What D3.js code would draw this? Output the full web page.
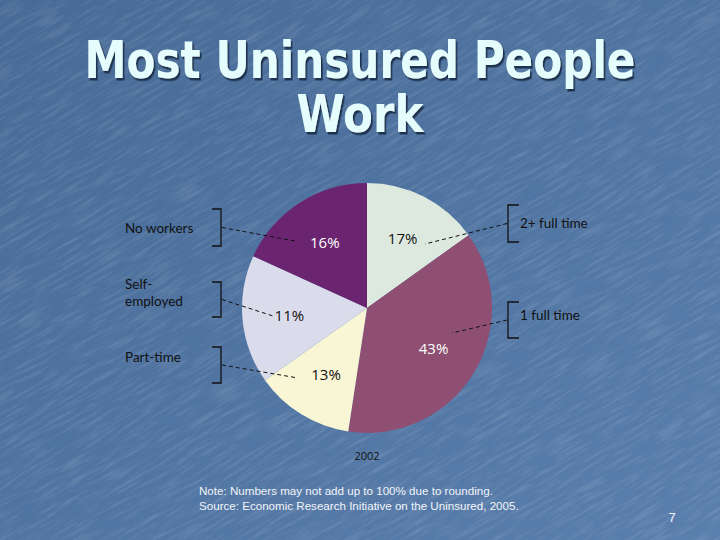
<!DOCTYPE html>
<html>
<head>
<meta charset="utf-8">
<script src="https://cdn.jsdelivr.net/npm/d3@7"></script>
<style>
  html, body { margin: 0; padding: 0; background: #4f739f; }
  svg { display: block; }
</style>
</head>
<body>
<svg id="chart" width="720" height="540"></svg>
<script>
// ---- data ----
const categories    = ["2+ full time", "1 full time", "Part-time", "Self-employed", "No workers"];
const labelPercents = [17, 43, 13, 11, 16];           // percentages printed on the slices
const drawnShares   = [15.1, 37.3, 12.8, 16.6, 18.2]; // slice sizes as drawn in the picture
const titleLines    = ["Most Uninsured People", "Work"];
const yearLabel     = "2002";
const noteLines     = ["Note: Numbers may not add up to 100% due to rounding.",
                       "Source:  Economic Research Initiative on the Uninsured, 2005."];
const pageNumber    = "7";

// ---- layout / style ----
const sliceColors = ["#dde9de", "#8f4f73", "#f8f6d4", "#dadcec", "#6b2570"];
const labelColors = ["#111", "#fff", "#111", "#111", "#fff"];
const cx = 367, cy = 308, R = 125;
const legendLayout = [
  { side: "right", yc: 223.5, half: 18.5, lines: ["2+ full time"], textY: 228, end: [425, 244] },
  { side: "right", yc: 320,   half: 18,   lines: ["1 full time"],  textY: 320, end: [452, 333] },
  { side: "left",  yc: 365,   half: 18,   lines: ["Part-time"],    textY: 362, end: [298, 378] },
  { side: "left",  yc: 299.5, half: 17.5, lines: ["Self-", "employed"], textY: 289, end: [273, 316] },
  { side: "left",  yc: 227.5, half: 18.5, lines: ["No workers"],   textY: 233, end: [295, 241] }
];

const svg = d3.select("#chart");
const defs = svg.append("defs");

// background gradient
const grad = defs.append("linearGradient").attr("id", "bg").attr("x1", 0).attr("y1", 0).attr("x2", 1).attr("y2", 1);
grad.append("stop").attr("offset", "0%").attr("stop-color", "#476a96");
grad.append("stop").attr("offset", "100%").attr("stop-color", "#5a7fad");
svg.append("rect").attr("width", 720).attr("height", 540).attr("fill", "url(#bg)");

// subtle scratchy texture
const tex = defs.append("filter").attr("id", "tex").attr("x", 0).attr("y", 0).attr("width", "100%").attr("height", "100%");
tex.append("feTurbulence").attr("type", "fractalNoise").attr("baseFrequency", "0.03 0.3")
   .attr("numOctaves", 3).attr("seed", 11).attr("result", "n");
tex.append("feColorMatrix").attr("type", "matrix")
   .attr("values", "0 0 0 0 1  0 0 0 0 1  0 0 0 0 1  1.4 0 0 0 -0.62");
svg.append("rect").attr("x", -300).attr("y", -300).attr("width", 1400).attr("height", 1200)
   .attr("transform", "rotate(-30 360 270)")
   .attr("filter", "url(#tex)").attr("opacity", 0.2);

// title shadow filter
const sh = defs.append("filter").attr("id", "shadow").attr("x", "-10%").attr("y", "-30%").attr("width", "120%").attr("height", "160%");
sh.append("feDropShadow").attr("dx", 2).attr("dy", 2.5).attr("stdDeviation", 0.4)
  .attr("flood-color", "#1d3250").attr("flood-opacity", 1);

// ---- title ----
const titleY = [78, 132], titleW = [551, 127];
titleLines.forEach((t, i) => {
  const g = svg.append("g").attr("transform", `translate(360,${titleY[i]})`);
  const txt = g.append("text").attr("x", 0).attr("y", 0)
    .attr("font-family", "DejaVu Sans, Verdana, sans-serif").attr("font-weight", "bold")
    .attr("font-size", 51).attr("text-anchor", "middle").attr("fill", "#e6fdfd")
    .attr("filter", "url(#shadow)").text(t);
  const w = txt.node().getComputedTextLength();
  g.attr("transform", `translate(360,${titleY[i]}) scale(${titleW[i] / w},1)`);
});

// ---- pie ----
const pie = d3.pie().sort(null).value(d => d.share).startAngle(0).endAngle(2 * Math.PI);
const rows = categories.map((c, i) => ({ cat: c, pct: labelPercents[i], share: drawnShares[i], i }));
const arcs = pie(rows);
const arc = d3.arc().innerRadius(0).outerRadius(R);
const labelArc = d3.arc().innerRadius(78).outerRadius(78);

const pg = svg.append("g").attr("transform", `translate(${cx},${cy})`);
pg.selectAll("path").data(arcs).join("path")
  .attr("d", arc).attr("fill", d => sliceColors[d.data.i]);

pg.selectAll("text").data(arcs).join("text")
  .attr("transform", d => `translate(${labelArc.centroid(d)})`)
  .attr("text-anchor", "middle").attr("dy", "0.36em")
  .attr("font-family", "Open Sans, sans-serif").attr("font-size", 15)
  .attr("fill", d => labelColors[d.data.i])
  .text(d => d.data.pct + "%");

// ---- brackets, category text and leader lines ----
const lg = svg.append("g").attr("font-family", "Lato, Open Sans, sans-serif").attr("font-size", 13.5).attr("fill", "#111");
legendLayout.forEach((L) => {
  const left = L.side === "left";
  const bx = left ? 221 : 508;
  const tick = left ? -9 : 11;
  lg.append("path")
    .attr("d", `M${bx + tick},${L.yc - L.half}H${bx}V${L.yc + L.half}H${bx + tick}`)
    .attr("fill", "none").attr("stroke", "#111").attr("stroke-width", 1.3);
  lg.append("line")
    .attr("x1", left ? bx + 1 : bx - 1).attr("y1", L.yc)
    .attr("x2", L.end[0]).attr("y2", L.end[1])
    .attr("stroke", "#111").attr("stroke-width", 1).attr("stroke-dasharray", "4,3");
  const tx = left ? 125 : 520;
  const t = lg.append("text").attr("x", tx).attr("y", L.textY);
  L.lines.forEach((s, j) => {
    t.append("tspan").attr("x", tx).attr("dy", j === 0 ? 0 : 16.5).text(s);
  });
});

// ---- year and notes ----
svg.append("text").attr("x", 367).attr("y", 460).attr("text-anchor", "middle")
  .attr("font-family", "Open Sans, sans-serif").attr("font-size", 11).attr("fill", "#111").text(yearLabel);

const ng = svg.append("g").attr("font-family", "Liberation Sans, Arial, sans-serif")
  .attr("font-size", 11.6).attr("fill", "#f2f4f8").style("white-space", "pre");
noteLines.forEach((t, i) => ng.append("text").attr("x", 199).attr("y", 495 + i * 14.5).text(t));
svg.append("text").attr("x", 672).attr("y", 522).attr("text-anchor", "middle")
  .attr("font-family", "Liberation Sans, Arial, sans-serif").attr("font-size", 13)
  .attr("fill", "#f2f4f8").text(pageNumber);
</script>
</body>
</html>
